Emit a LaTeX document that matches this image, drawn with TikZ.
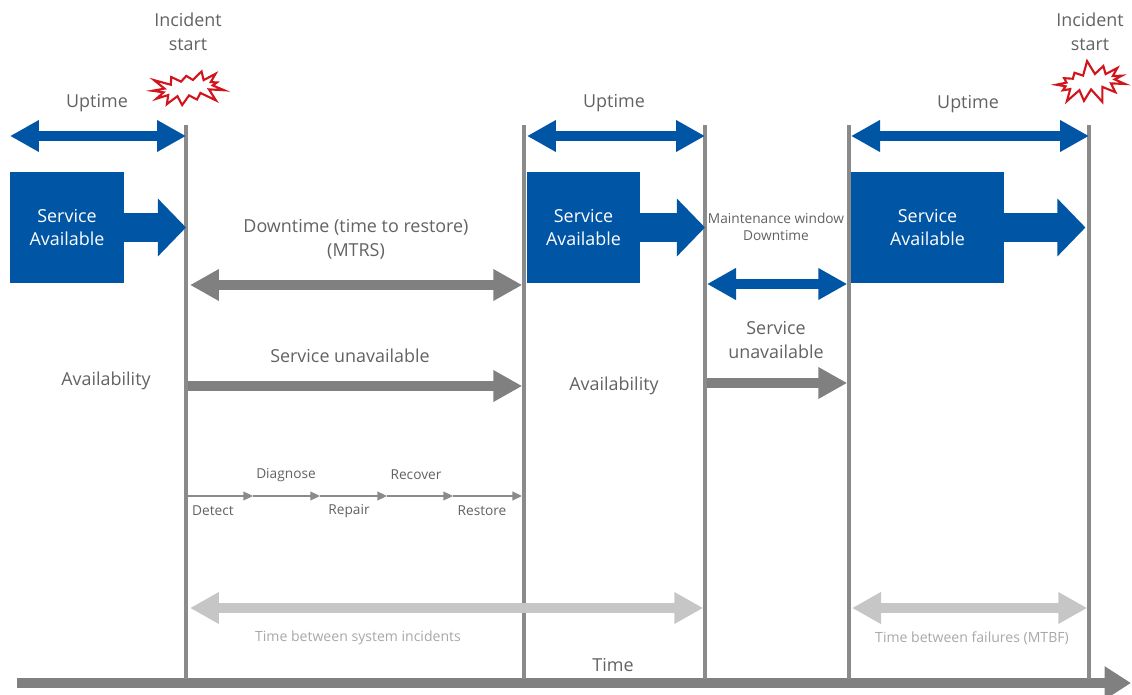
\documentclass[tikz,border=0pt]{standalone}
\usepackage{fontspec}
\setmainfont{Open Sans}
\usetikzlibrary{arrows.meta,shapes.symbols}
\definecolor{svcblue}{HTML}{0055A4}
\definecolor{linegray}{HTML}{8A8A8A}
\definecolor{arrowgray}{HTML}{808080}
\definecolor{palegray}{HTML}{C6C6C6}
\definecolor{txtgray}{HTML}{626262}
\definecolor{burstred}{HTML}{D2141C}
\begin{document}
\begin{tikzpicture}[x=0.02cm,y=-0.02cm,
    lbl/.style={text=txtgray,font=\fontsize{10.2}{13.5}\selectfont,align=center,inner sep=0pt},
    tiny/.style={text=txtgray,font=\fontsize{7.8}{9.5}\selectfont,align=center,inner sep=0pt},
    faint/.style={text=palegray!85!black,font=\fontsize{8}{9.5}\selectfont,inner sep=0pt},
    tline/.style={draw=linegray,line width=2pt},
    fat/.style={line width=5.4pt,{Triangle[length=16.5pt,width=17pt]}-{Triangle[length=16.5pt,width=17pt]}},
    fatone/.style={line width=5.4pt,-{Triangle[length=16.5pt,width=17pt]}},
    svcbox/.style={fill=svcblue,text=white,font=\fontsize{10.2}{13.5}\selectfont,align=center,minimum height=2.22cm,inner sep=0pt},
    svcarrow/.style={svcblue,line width=17pt,-{Triangle[length=16pt,width=32pt]}},
    phase/.style={draw=linegray,line width=1pt,-{Triangle[length=5.5pt,width=5pt]}},
    burst/.style={starburst,draw=burstred,fill=white,line width=1.2pt,minimum width=1.6cm,minimum height=0.9cm,starburst points=13,starburst point height=0.3cm,inner sep=0pt,rotate=8}
  ]
  \useasboundingbox (0,0) rectangle (1132,695);

  % time axis
  \coordinate (ax0) at (17,683);
  \coordinate (ax1) at (1131,683);
  \draw[arrowgray,line width=5.6pt,-{Triangle[length=15pt,width=18pt]}] (ax0) -- (ax1);
  \node[lbl] (time) at (613,665) {Time};

  % vertical markers
  \foreach \n/\x in {1/186,2/524,3/705,4/849,5/1089}{
    \coordinate (t\n) at (\x,125);
    \coordinate (b\n) at (\x,679);
    \draw[tline] (t\n) -- (b\n);
  }

  % incidents
  \node[lbl] (inc1) at (188,32) {Incident\\start};
  \node[lbl] (inc2) at (1090,32) {Incident\\start};
  \node[burst,random starburst=3] (star1) at (188,88) {};
  \node[burst,random starburst=7] (star2) at (1090,82) {};

  % uptime
  \coordinate (u1) at (10,136);
  \coordinate (u2) at (527,136);
  \coordinate (u3) at (851,136);
  \draw[svcblue,fat] (u1) -- (u1 -| t1);
  \draw[svcblue,fat] (u2) -- (u2 -| t3);
  \draw[svcblue,fat] (u3) -- (u3 -| t5);
  \node[lbl] (up1) at (97,103) {Uptime};
  \node[lbl] (up2) at (614,103) {Uptime};
  \node[lbl] (up3) at (968,104) {Uptime};

  % service available
  \node[svcbox,minimum width=2.28cm] (sa1) at (67,227.5) {Service\\Available};
  \node[svcbox,minimum width=2.26cm] (sa2) at (583.5,227.5) {Service\\Available};
  \node[svcbox,minimum width=3.06cm] (sa3) at (927.5,227.5) {Service\\Available};
  \draw[svcarrow] (sa1.east) -- (sa1.east -| t1);
  \draw[svcarrow] (sa2.east) -- (sa2.east -| t3);
  \draw[svcarrow] ([xshift=-1pt]sa3.east) -- ([xshift=-2pt]sa3.east -| t5);

  % downtime
  \node[lbl] (mtrs) at (356,239) {Downtime (time to restore)\\(MTRS)};
  \coordinate (d0) at (190,285);
  \draw[arrowgray,fat] (d0) -- ([xshift=-1pt]d0 -| t2);
  \node[lbl] (unav1) at (350,356) {Service unavailable};
  \coordinate (n0) at (188,386);
  \draw[arrowgray,fatone] (n0) -- ([xshift=-1pt]n0 -| t2);
  \node[lbl] (avl1) at (106,381) {Availability};
  \node[lbl] (avl2) at (614,386) {Availability};

  % maintenance
  \node[tiny] (maint) at (776,227) {Maintenance window\\Downtime};
  \coordinate (m0) at (707,284);
  \draw[svcblue,fat] (m0) -- ([xshift=-1pt]m0 -| t4);
  \node[lbl] (unav2) at (776,340) {Service\\unavailable};
  \coordinate (m1) at (707,383);
  \draw[arrowgray,fatone] (m1) -- ([xshift=-1pt]m1 -| t4);

  % restore phases
  \foreach \i/\x in {0/188,1/253,2/320,3/387,4/453,5/522}
    \coordinate (s\i) at (\x,496);
  \foreach \a/\b in {s0/s1,s1/s2,s2/s3,s3/s4,s4/s5}
    \draw[phase] (\a) -- (\b);
  \node[tiny] (detect) at (213,511) {Detect};
  \node[tiny] (diag) at (286,475) {Diagnose};
  \node[tiny] (repair) at (349,511) {Repair};
  \node[tiny] (recov) at (416,475) {Recover};
  \node[tiny] (restore) at (482,511) {Restore};

  % between incidents / failures
  \coordinate (g0) at (190,608);
  \coordinate (g1) at (852,608);
  \draw[palegray,fat] (g0) -- ([xshift=-1pt]g0 -| t3);
  \draw[palegray,fat] (g1) -- ([xshift=-1pt]g1 -| t5);
  \node[faint] (tbsi) at (358,638) {Time between system incidents};
  \node[faint] (mtbf) at (972,638) {Time between failures (MTBF)};
\end{tikzpicture}
\end{document}
